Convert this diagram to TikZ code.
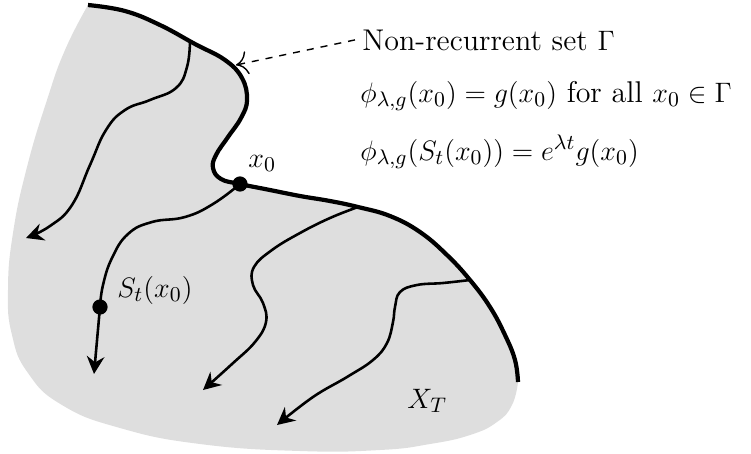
\documentclass[tikz,border=0pt]{standalone}
\usepackage{amsmath}
\usepackage{amssymb}
\usetikzlibrary{arrows.meta}

\definecolor{regiongray}{gray}{0.87}

% boundary of the region (non-recurrent set)
\newcommand{\gammacurve}{plot[smooth, tension=0.7] coordinates {(88,5) (125,11) (160,25) (195,44) (225,60) (242,78) (247,100) (241,118) (228,137) (216,155) (213,168) (221,179) (240,184) (270,190) (300,196) (330,201) (358,207) (390,216) (420,232) (447,255) (470,280) (490,307) (505,335) (515,360) (518,382)}}

\begin{document}
\begin{tikzpicture}[
    x=0.015cm, y=-0.015cm,
    gammaline/.style={line width=1.8pt, line join=round},
    flow/.style={line width=1.1pt, -{Stealth[length=7.5pt, width=7.5pt, inset=2.5pt]}},
    flowpart/.style={line width=1.1pt},
    pointer/.style={dashed, line width=0.6pt, -{To[length=5pt, width=10pt]}},
    dot/.style={circle, fill=black, inner sep=0pt, minimum size=6.5pt},
    lbl/.style={inner sep=0pt, anchor=base west, font=\fontsize{12.8pt}{15pt}\selectfont},
  ]
  \useasboundingbox (0,0) rectangle (751,453);

  % --- Region X_T (background) ---
  \fill[regiongray] \gammacurve -- plot[smooth, tension=0.8] coordinates {(518,382) (512,405) (497,422) (470,435) (430,444) (380,450) (300,451) (200,444) (120,428) (62,405) (28,373) (12,335) (8,290) (13,233) (27,167) (47,100) (65,50) (88,5)} -- cycle;

  % --- Points on the boundary ---
  \coordinate (gone)   at (190,41);
  \coordinate (gtip)   at (236,65);
  \coordinate (gthree) at (358,207);
  \coordinate (gfour)  at (470,280);

  % --- Trajectories ---
  \draw[flow] plot[smooth, tension=0.75] coordinates {(gone) (187,67) (176,88) (150,100) (125,110) (106,130) (90,165) (72,205) (50,226) (26,238)};
  \draw[flowpart] plot[smooth, tension=0.75] coordinates {(240,184) (213,204) (185,217) (152,222) (128,234) (112,258) (103,285) (100,307)};
  \draw[flow] plot[smooth, tension=0.7] coordinates {(gthree) (330,218) (300,233) (272,250) (254,267) (253,285) (263,303) (266,322) (255,342) (232,364) (203,390)};
  \draw[flow] plot[smooth, tension=0.7] coordinates {(gfour) (443,283) (417,285) (400,292) (395,307) (393,322) (387,343) (373,360) (347,377) (313,397) (277,425)};

  % --- Boundary Gamma ---
  \draw[gammaline] \gammacurve;

  % --- Marked points ---
  \node[dot] (x0dot) at (240,184) {};
  \node[dot] (stdot) at (100,307) {};
  \draw[flow] (stdot.center) -- (94,374);

  % --- Labels ---
  \node[lbl] (xzerolabel) at (248,167) {$x_0$};
  \node[lbl] (stlabel)    at (117,297) {$S_t(x_0)$};
  \node[lbl] (xtlabel)    at (407,408) {$X_T$};

  \node[lbl] (gammalabel) at (362,50)  {Non-recurrent set $\Gamma$};
  \node[lbl] (eqboundary) at (360,102) {$\phi_{\lambda,g}(x_0) = g(x_0)$ for all $x_0 \in \Gamma$};
  \node[lbl] (eqflow)     at (360,160) {$\phi_{\lambda,g}(S_t(x_0)) = e^{\lambda t} g(x_0)$};

  \draw[pointer] ([xshift=-3pt]gammalabel.west) -- (gtip);
\end{tikzpicture}
\end{document}
